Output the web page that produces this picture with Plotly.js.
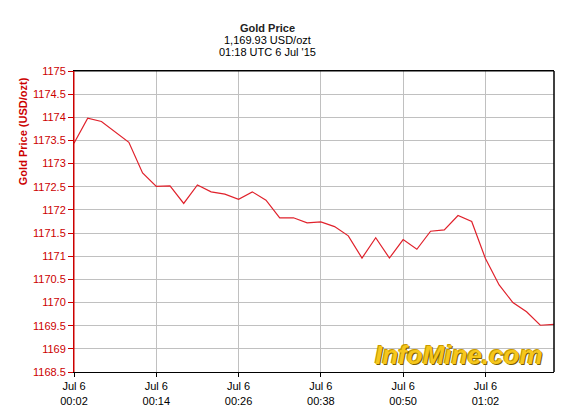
<!DOCTYPE html>
<html>
<head>
<meta charset="utf-8">
<script src="https://cdn.plot.ly/plotly-3.0.1.min.js"></script>
<style>html,body{margin:0;padding:0;background:#fff;}#chart{width:574px;height:414px;}</style>
</head>
<body>
<div id="chart"></div>
<script>
const times = ["00:02","00:04","00:06","00:08","00:10","00:12","00:14","00:16","00:18","00:20",
  "00:22","00:24","00:26","00:28","00:30","00:32","00:34","00:36","00:38","00:40",
  "00:42","00:44","00:46","00:48","00:50","00:52","00:54","00:56","00:58","01:00",
  "01:02","01:04","01:06","01:08","01:10","01:12"];
const prices = [1173.44,1173.98,1173.91,1173.69,1173.46,1172.80,1172.51,1172.52,1172.14,1172.54,
  1172.39,1172.34,1172.23,1172.39,1172.21,1171.83,1171.83,1171.72,1171.74,1171.64,
  1171.44,1170.96,1171.40,1170.96,1171.36,1171.15,1171.54,1171.57,1171.88,1171.75,
  1170.95,1170.38,1170.00,1169.80,1169.51,1169.53];
const tickTimes = ["00:02","00:14","00:26","00:38","00:50","01:02"];
const tickLabels = ["Jul 6<br>00:02","Jul 6<br>00:14","Jul 6<br>00:26","Jul 6<br>00:38","Jul 6<br>00:50","Jul 6<br>01:02"];
const day = "2015-07-06 ";
const titleLines = ["Gold Price","1,169.93 USD/ozt","01:18 UTC 6 Jul '15"];
const yTitle = "Gold Price (USD/ozt)";

const FONT = "Liberation Sans, Arial, sans-serif";
const RED = "#cc0000";

const trace = {
  x: times.map(t => day + t),
  y: prices,
  type: "scatter",
  mode: "lines",
  line: {color: "#e0212b", width: 1.2},
  hoverinfo: "skip"
};

const layout = {
  width: 574, height: 414,
  margin: {l: 74, r: 20, t: 71, b: 42},
  paper_bgcolor: "#fff", plot_bgcolor: "#fff",
  showlegend: false,
  font: {family: FONT, size: 11, color: "#000"},
  xaxis: {
    type: "date",
    range: [day + "00:02", day + "01:12"],
    tickmode: "array",
    tickvals: tickTimes.map(t => day + t),
    ticktext: tickLabels,
    showgrid: true, gridcolor: "#c0c0c0", gridwidth: 1,
    showline: true, linecolor: "#000", linewidth: 1, mirror: true,
    ticks: "outside", ticklen: 4, tickcolor: "#000",
    tickfont: {family: FONT, size: 11, color: "#000"},
    zeroline: false, fixedrange: true
  },
  yaxis: {
    range: [1168.5, 1175],
    dtick: 0.5, tick0: 1168.5,
    tickformat: ".1~f",
    showgrid: true, gridcolor: "#c0c0c0", gridwidth: 1,
    showline: true, linecolor: RED, linewidth: 1,
    ticks: "outside", ticklen: 5, tickcolor: RED,
    tickfont: {family: FONT, size: 11, color: RED},
    zeroline: false, fixedrange: true
  },
  shapes: [
    {type: "line", xref: "paper", yref: "paper", x0: 0, x1: 1, y0: 1, y1: 1, line: {color: "#000", width: 1}},
    {type: "line", xref: "paper", yref: "paper", x0: 1, x1: 1, y0: 0, y1: 1, line: {color: "#000", width: 1.5}},
    {type: "line", xref: "paper", yref: "paper", x0: 0, x1: 0, y0: 0, y1: 1, line: {color: RED, width: 1}}
  ],
  annotations: [
    {text: "<b>" + titleLines[0] + "</b>", xref: "paper", yref: "paper", x: 0.404, y: 1, yshift: 43,
     xanchor: "center", yanchor: "middle", showarrow: false, font: {family: FONT, size: 11, color: "#222"}},
    {text: titleLines[1], xref: "paper", yref: "paper", x: 0.404, y: 1, yshift: 31,
     xanchor: "center", yanchor: "middle", showarrow: false, font: {family: FONT, size: 11, color: "#000"}},
    {text: titleLines[2], xref: "paper", yref: "paper", x: 0.404, y: 1, yshift: 19,
     xanchor: "center", yanchor: "middle", showarrow: false, font: {family: FONT, size: 11, color: "#000"}},
    {text: "<b>" + yTitle + "</b>", xref: "paper", yref: "paper", x: 0, xshift: -51, y: 0.8,
     textangle: -90, xanchor: "center", yanchor: "middle", showarrow: false,
     font: {family: FONT, size: 11, color: RED}},
    {text: "<b><i>InfoMine.com</i></b>", xref: "paper", yref: "paper", x: 0.982, y: 0.055,
     xanchor: "right", yanchor: "middle", showarrow: false,
     font: {family: FONT, size: 26, color: "#f6c71c", shadow: "1px 1px 0px #7a5f00, -1px -1px 0px #c99a00"}}
  ]
};

Plotly.newPlot("chart", [trace], layout, {staticPlot: true, displayModeBar: false});
</script>
</body>
</html>
